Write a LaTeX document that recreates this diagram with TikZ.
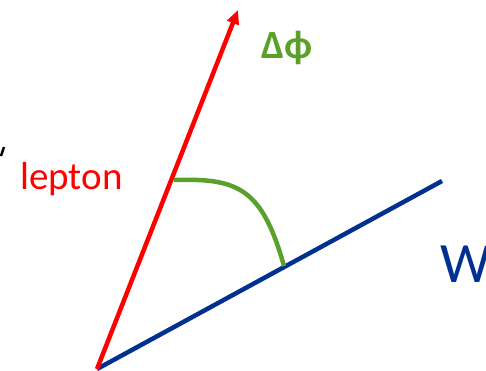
\documentclass[tikz,border=0pt]{standalone}
\usepackage{fontspec}
\setmainfont{Carlito}
\usetikzlibrary{arrows.meta}
\definecolor{lred}{RGB}{255,0,0}
\definecolor{wblue}{RGB}{0,48,145}
\definecolor{agreen}{RGB}{92,160,44}
\begin{document}
\begin{tikzpicture}[x=1pt,y=-1pt,
  vec/.style={line width=4.5pt},
  lab/.style={inner sep=0pt,anchor=base west}]
\useasboundingbox (0,0) rectangle (486,370);
\coordinate (o) at (97,369);
\coordinate (ltip) at (238,10);
\coordinate (wend) at (442,181);
\coordinate (a1) at (174,180);
\coordinate (a2) at (284,266);
\draw[vec,wblue] (o) -- (wend);
\draw[vec,lred,-{Triangle[length=14pt,width=12pt]}] (o) -- (ltip);
\draw[line width=4.5pt,agreen] (a1) .. controls (238,178) and (262,188) .. (a2);
\node[lab,text=lred,font=\fontsize{39}{42}\selectfont] (lep) at (20,189) {lepton};
\node[lab,text=wblue,font=\fontsize{57}{60}\selectfont] (w) at (440,282) {W};
\node[lab,text=agreen,font=\bfseries\fontsize{40}{44}\selectfont] (dphi) at (261,58) {Δϕ};
\coordinate (m1) at (4,147);
\coordinate (m2) at (1,156);
\draw[line width=2.5pt] (m1) -- (m2);
\end{tikzpicture}
\end{document}
